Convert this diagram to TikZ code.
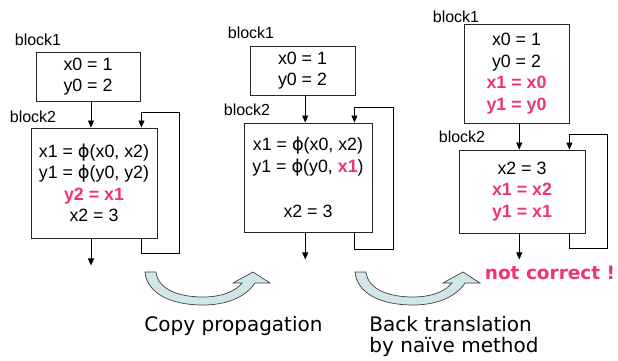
\documentclass[tikz,border=0pt]{standalone}
\usepackage{fontspec}
\setmainfont{Liberation Sans}
\newfontfamily\capfont{DejaVu Sans}
\newfontfamily\phifont{DejaVu Sans}
\usetikzlibrary{calc,arrows.meta}
\definecolor{hot}{RGB}{240,50,120}
\definecolor{bandfill}{RGB}{208,230,234}
\newcommand{\ph}{{\phifont ϕ}}
\newcommand{\hl}[1]{\textcolor{hot}{\bfseries #1}}

\begin{document}
\begin{tikzpicture}[x=1pt,y=-1pt,
  font=\fontsize{17.8}{21.5}\selectfont,
  blk/.style={draw=black!85, line width=0.9pt, inner sep=0pt, align=center},
  lbl/.style={font=\fontsize{16}{19}\selectfont, inner sep=0pt},
  arr/.style={-{Triangle[length=7pt,width=6pt]}, line width=0.8pt},
  band/.style={draw=black!75, line width=0.7pt, fill=bandfill},
  captext/.style={font=\capfont\fontsize{20}{21}\selectfont, inner sep=0pt}]
\useasboundingbox (0,0) rectangle (618,360);

% ---- before: SSA form with the copy y2 = x1
\node[lbl] (l1a) at (38,40) {block1};
\node[blk, minimum width=104pt, minimum height=49pt] (b1a) at (88,76.5) {x0 = 1\\ y0 = 2};
\node[lbl] (l2a) at (33,117) {block2};
\node[blk, minimum width=126pt, minimum height=110pt] (b2a) at (94,183)
  {x1 = \ph(x0, x2)\\ y1 = \ph(y0, y2)\\ \hl{y2 = x1}\\ x2 = 3};
\coordinate (m1) at ($(b1a.south)!.5!(b2a.north)$);
\draw[arr] (b1a.south -| m1) -- (b2a.north -| m1);
\coordinate (e1) at ($(b2a.south -| m1)+(0,27)$);
\draw[arr] (b2a.south -| m1) -- (e1);
\draw[arr] ($(b2a.south east)+(-16,0)$) -- ++(0,15) -- ++(38,0) -- ++(0,-141)
  -- ++(-38,0) -- ($(b2a.north east)+(-16,0)$);

% ---- after copy propagation
\node[lbl] (l1b) at (251,33) {block1};
\node[blk, minimum width=105pt, minimum height=49pt] (b1b) at (302.5,70.5) {x0 = 1\\ y0 = 2};
\node[lbl] (l2b) at (247,110) {block2};
\node[blk, minimum width=128pt, minimum height=109pt] (b2b) at (308,177.5)
  {x1 = \ph(x0, x2)\\ y1 = \ph(y0, \hl{x1})\\[24pt] x2 = 3};
\coordinate (m2) at ($(b1b.south)!.5!(b2b.north)$);
\draw[arr] (b1b.south -| m2) -- (b2b.north -| m2);
\coordinate (e2) at ($(b2b.south -| m2)+(0,27)$);
\draw[arr] (b2b.south -| m2) -- (e2);
\draw[arr] ($(b2b.south east)+(-18,0)$) -- ++(0,17) -- ++(39,0) -- ++(0,-142)
  -- ++(-39,0) -- ($(b2b.north east)+(-18,0)$);

% ---- after naive back translation
\node[lbl] (l1c) at (456,17) {block1};
\node[blk, minimum width=105pt, minimum height=99pt] (b1c) at (516.5,73.5)
  {x0 = 1\\ y0 = 2\\ \hl{x1 = x0}\\ \hl{y1 = y0}};
\node[lbl] (l2c) at (462,137) {block2};
\node[blk, minimum width=126pt, minimum height=83pt] (b2c) at (522,191.5)
  {x2 = 3\\ \hl{x1 = x2}\\ \hl{y1 = x1}};
\coordinate (m3) at ($(b1c.south)!.5!(b2c.north)$);
\draw[arr] (b1c.south -| m3) -- (b2c.north -| m3);
\coordinate (e3) at ($(b2c.south -| m3)+(0,26)$);
\draw[arr] (b2c.south -| m3) -- (e3);
\draw[arr] ($(b2c.south east)+(-16,0)$) -- ++(0,15) -- ++(38,0) -- ++(0,-114)
  -- ++(-38,0) -- ($(b2c.north east)+(-16,0)$);
\node[font=\capfont\bfseries\fontsize{18.5}{22}\selectfont, text=hot, inner sep=0pt]
  (nc) at (550,273) {not correct !};

% ---- curved block arrows between the stages
\foreach \dx in {0,210}{
  \begin{scope}[xshift=\dx pt]
    \path[band] (145,272) -- (156,272)
      .. controls (158,290) and (180,297) .. (203,297)
      .. controls (222,297) and (236,291) .. (242,283)
      -- (233,283) -- (253,272) -- (270,283) -- (255,283)
      .. controls (245,298) and (225,305) .. (203,305)
      .. controls (170,305) and (147,293) .. (145,272) -- cycle;
  \end{scope}
}
\node[captext] (c1) at (233.5,326) {Copy propagation};
\node[captext, align=left] (c2) at (454,336.5) {Back translation\\ by naïve method};
\end{tikzpicture}
\end{document}
